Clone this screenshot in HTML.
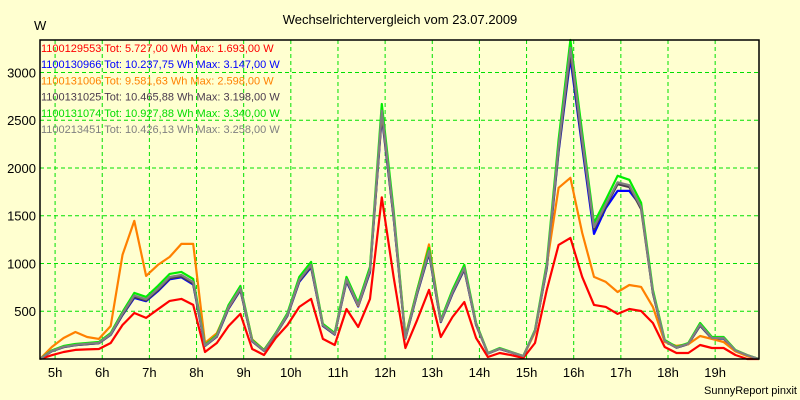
<!DOCTYPE html>
<html><head><meta charset="utf-8"><style>
body{margin:0;background:#ffffd0;}
svg{display:block;font-family:"Liberation Sans",sans-serif;}
</style></head><body>
<svg id="chart" width="800" height="400">
<rect x="0" y="0" width="800" height="400" fill="#ffffd0"/>
<text x="400" y="24" text-anchor="middle" font-size="13">Wechselrichtervergleich vom 23.07.2009</text>
<text x="34" y="30" font-size="13">W</text>
<text x="797" y="394" text-anchor="end" font-size="11">SunnyReport pinxit</text>
<g id="grid"></g><g id="lines"></g><g id="legend"></g>
<rect x="40" y="40" width="719" height="319" fill="none" stroke="#000" stroke-width="1.5"/>
</svg>
<script>
const hourTicks=[5,6,7,8,9,10,11,12,13,14,15,16,17,18,19];
const yTicks=[500,1000,1500,2000,2500,3000];
const seriesNames=["1100130966","1100131025","1100131006","1100129553","1100131074","1100213451"];
const seriesColors=["#0000ff","#4a3a4e","#ff8000","#ff0000","#00ee00","#808080"];
const blue=[0,82,124,144,155,165,252,460,640,605,710,835,855,780,136,232,528,720,184,85,255,452,808,960,345,255,812,550,910,2540,1480,214,684,1105,386,684,935,356,57,106,67,28,286,950,2170,3147,2220,1310,1580,1760,1760,1600,690,186,118,156,350,214,214,88,38,0];
const dark=[0,83,125,145,156,166,255,465,650,612,720,845,865,790,138,236,535,728,186,86,258,458,818,970,350,258,822,556,920,2560,1490,216,690,1115,390,690,942,360,58,108,68,28,290,960,2190,3198,2260,1360,1600,1830,1800,1570,690,186,118,156,352,216,216,88,38,0];
const orange=[0,126,220,283,230,210,346,1090,1446,870,985,1069,1205,1205,168,270,540,740,205,95,262,465,830,990,360,265,840,560,940,2598,1520,240,720,1200,400,710,960,370,60,110,70,30,280,985,1792,1897,1320,860,807,702,775,755,545,178,137,155,241,210,178,80,30,0];
const red=[0,40,73,95,100,105,168,356,482,430,520,608,629,566,73,168,346,472,105,42,220,356,545,629,210,147,524,335,629,1693,860,115,409,723,230,440,597,220,21,63,40,10,168,723,1195,1268,860,566,545,472,524,503,377,126,63,63,147,115,115,42,0,0];
const green=[0,90,136,157,168,178,272,493,692,650,765,891,912,838,147,250,566,765,200,94,272,482,860,1017,367,272,860,587,964,2670,1560,230,723,1163,409,723,985,377,63,115,73,31,304,1006,2295,3340,2368,1425,1666,1918,1876,1635,723,200,126,168,377,230,230,94,42,0];
const gray=[0,85,128,148,160,170,260,475,665,625,735,860,880,805,140,240,545,740,190,88,262,465,830,985,355,262,835,565,935,2600,1510,220,700,1130,395,700,955,365,60,110,70,30,295,975,2225,3258,2300,1380,1620,1850,1820,1590,700,190,120,160,360,220,220,90,40,0];
const legendTexts=[
 ["1100129553","Tot: 5.727,00 Wh Max: 1.693,00 W","#ff0000"],
 ["1100130966","Tot: 10.237,75 Wh Max: 3.147,00 W","#0000ff"],
 ["1100131006","Tot: 9.581,63 Wh Max: 2.598,00 W","#ff8000"],
 ["1100131025","Tot: 10.465,88 Wh Max: 3.198,00 W","#4a3a4e"],
 ["1100131074","Tot: 10.927,88 Wh Max: 3.340,00 W","#00dd00"],
 ["1100213451","Tot: 10.426,13 Wh Max: 3.258,00 W","#808080"]];
const T0=4.68,STEP=0.25,TMAX=19.93,VMAX=3340;
const X0=40,X1=759,Y0=359,Y1=40;
function xs(t){return X0+(t-T0)/(TMAX-T0)*(X1-X0);}
function ys(v){return Y0-v/VMAX*(Y0-Y1);}
const NS="http://www.w3.org/2000/svg";
const grid=document.getElementById('grid');
hourTicks.forEach(h=>{
 const x=xs(h);
 const l=document.createElementNS(NS,'line');
 l.setAttribute('x1',x);l.setAttribute('x2',x);l.setAttribute('y1',Y1);l.setAttribute('y2',Y0);
 l.setAttribute('stroke','#00e000');l.setAttribute('stroke-dasharray','4,3');
 
 
 grid.appendChild(l);
 const t=document.createElementNS(NS,'text');
 t.setAttribute('x',x);t.setAttribute('y',377);t.setAttribute('text-anchor','middle');t.setAttribute('font-size','13');
 t.textContent=h+'h';
 
 
 grid.appendChild(t);
});
yTicks.forEach(v=>{
 const y=ys(v);
 const l=document.createElementNS(NS,'line');
 l.setAttribute('x1',X0);l.setAttribute('x2',X1);l.setAttribute('y1',y);l.setAttribute('y2',y);
 l.setAttribute('stroke','#00e000');l.setAttribute('stroke-dasharray','4,3');
 
 
 grid.appendChild(l);
 const t=document.createElementNS(NS,'text');
 t.setAttribute('x',36);t.setAttribute('y',y+5);t.setAttribute('text-anchor','end');t.setAttribute('font-size','13');
 t.textContent=v;
 
 
 grid.appendChild(t);
});
const all=[blue,dark,orange,red,green,gray];
const lines=document.getElementById('lines');
all.forEach((arr,k)=>{
 const pts=arr.map((v,i)=>xs(T0+i*STEP).toFixed(1)+','+ys(v).toFixed(1)).join(' ');
 const p=document.createElementNS(NS,'polyline');
 p.setAttribute('points',pts);p.setAttribute('fill','none');
 p.setAttribute('stroke',seriesColors[k]);p.setAttribute('stroke-width','2.2');p.setAttribute('stroke-linejoin','round');
 
 
 lines.appendChild(p);
});
const lg=document.getElementById('legend');
legendTexts.forEach((e,i)=>{
 const t=document.createElementNS(NS,'text');
 t.setAttribute('x',41);t.setAttribute('y',52+i*16.2);t.setAttribute('font-size','11');t.setAttribute('fill',e[2]);
 t.textContent=e[0]+' '+e[1];
 
 
 lg.appendChild(t);
});
</script>
</body></html>
